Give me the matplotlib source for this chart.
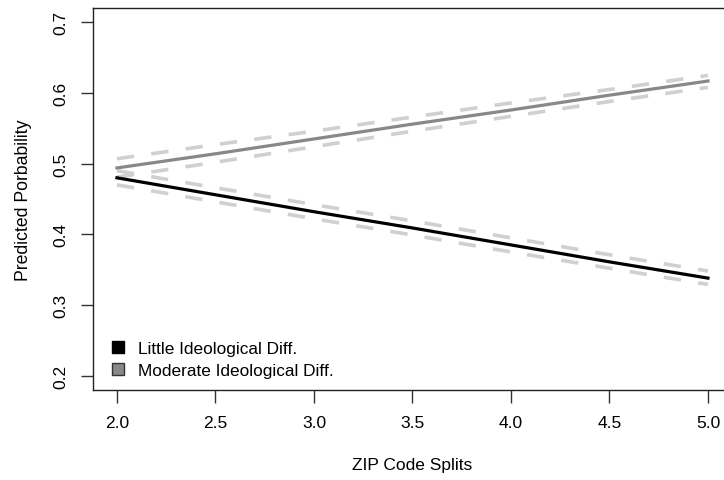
import matplotlib.pyplot as plt
from matplotlib.patches import Patch

plt.rcParams["font.family"] = ["Liberation Sans", "DejaVu Sans"]

# ZIP code splits and predicted probabilities
zip_splits = [2.0, 2.5, 3.0, 3.5, 4.0, 4.5, 5.0]

little_fit = [0.480, 0.456, 0.432, 0.409, 0.385, 0.361, 0.338]
little_hi = [0.490, 0.466, 0.442, 0.419, 0.395, 0.371, 0.348]
little_lo = [0.470, 0.446, 0.422, 0.399, 0.375, 0.352, 0.329]

moderate_fit = [0.494, 0.514, 0.535, 0.556, 0.576, 0.597, 0.617]
moderate_hi = [0.507, 0.527, 0.546, 0.566, 0.586, 0.605, 0.625]
moderate_lo = [0.481, 0.502, 0.524, 0.546, 0.567, 0.588, 0.608]

x_ticks = [2.0, 2.5, 3.0, 3.5, 4.0, 4.5, 5.0]
y_ticks = [0.2, 0.3, 0.4, 0.5, 0.6, 0.7]

fig = plt.figure(figsize=(7.24, 4.81), dpi=100)
# plot region runs past the right edge, as in the original crop
ax = fig.add_axes([0.1289, 0.1877, 0.8816, 0.793])

ci_color = "#d0d0d0"
dash = (0, (4.8, 4.8))
for band in [little_hi, little_lo, moderate_hi, moderate_lo]:
    ax.plot(zip_splits, band, color=ci_color, lw=2.6, linestyle=dash,
            dash_capstyle="butt")

ax.plot(zip_splits, little_fit, color="black", lw=2.3)
ax.plot(zip_splits, moderate_fit, color="#888888", lw=2.3)

ax.set_xlim(1.88, 5.12)
ax.set_ylim(0.18, 0.72)
ax.set_xticks(x_ticks)
ax.set_xticklabels([f"{v:.1f}" for v in x_ticks])
ax.set_yticks(y_ticks)
ax.set_yticklabels([f"{v:.1f}" for v in y_ticks], rotation=90, va="center")
ax.tick_params(length=9, width=1, labelsize=12.5, pad=9, color="#333333")

for s in ax.spines.values():
    s.set_linewidth(1)
    s.set_color("#222222")

ax.set_xlabel("ZIP Code Splits", fontsize=12.5, labelpad=20)
ax.set_ylabel("Predicted Porbability", fontsize=12.7, labelpad=15)

handles = [Patch(facecolor="black", edgecolor="black"),
           Patch(facecolor="#888888", edgecolor="#333333")]
ax.legend(handles, ["Little Ideological Diff.", "Moderate Ideological Diff."],
          loc="lower left", bbox_to_anchor=(0.01, 0.0), frameon=False,
          fontsize=12.4, handlelength=0.7, handleheight=0.7,
          handletextpad=0.85, labelspacing=0.4, borderaxespad=0.3)

fig.savefig("out.png", dpi=100)
